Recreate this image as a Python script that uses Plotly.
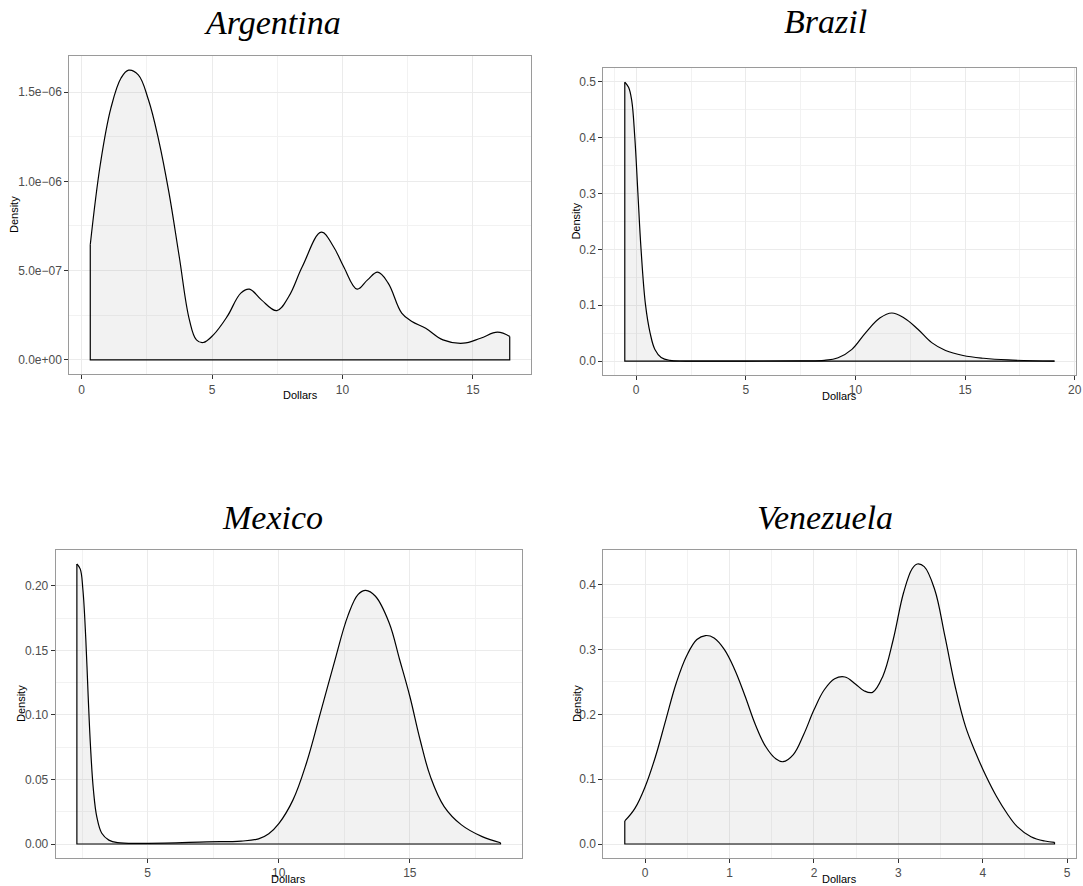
import plotly.graph_objects as go

# ---- data (density curves, one per country) ----
arg_x = [0.33, 0.72, 1.12, 1.51, 1.80, 2.17, 2.56, 2.95, 3.35, 3.74, 4.13, 4.40, 4.66,
         5.05, 5.58, 6.10, 6.43, 6.89, 7.48, 7.94, 8.46, 9.19, 9.65, 10.04, 10.56,
         10.96, 11.35, 11.75, 12.27, 12.66, 13.19, 13.85, 14.63, 15.29, 15.94, 16.41]
arg_y = [0.645e-6, 1.10e-6, 1.41e-6, 1.579e-6, 1.623e-6, 1.597e-6, 1.457e-6, 1.233e-6,
         0.934e-6, 0.579e-6, 0.224e-6, 0.112e-6, 0.097e-6, 0.140e-6, 0.243e-6, 0.374e-6,
         0.396e-6, 0.336e-6, 0.276e-6, 0.355e-6, 0.523e-6, 0.715e-6, 0.635e-6, 0.523e-6,
         0.396e-6, 0.448e-6, 0.491e-6, 0.430e-6, 0.262e-6, 0.215e-6, 0.177e-6, 0.112e-6,
         0.093e-6, 0.121e-6, 0.155e-6, 0.131e-6]

bra_x = [-0.52, -0.348, -0.206, -0.063, 0.079, 0.222, 0.427, 0.633, 0.854, 1.139, 1.535,
         2.25, 5.0, 7.5, 8.58, 9.21, 9.84, 10.47, 11.11, 11.66, 12.22, 12.85, 13.48, 14.11,
         14.91, 15.85, 16.96, 19.08]
bra_y = [0.499, 0.490, 0.467, 0.400, 0.300, 0.200, 0.100, 0.0506, 0.0208, 0.0065, 0.0012,
         0.0, 0.0, 0.0003, 0.0012, 0.006, 0.021, 0.051, 0.077, 0.086, 0.077, 0.057, 0.033,
         0.019, 0.010, 0.005, 0.002, 0.0]

mex_x = [2.30, 2.43, 2.53, 2.64, 2.73, 2.82, 2.93, 3.06, 3.25, 3.52, 3.85, 5.03, 7.26,
         8.57, 9.23, 9.62, 10.01, 10.54, 11.06, 11.59, 12.11, 12.64, 13.03, 13.32, 13.69,
         14.21, 14.61, 15.00, 15.39, 15.79, 16.31, 16.97, 17.76, 18.46]
mex_y = [0.217, 0.213, 0.197, 0.159, 0.115, 0.0756, 0.042, 0.021, 0.0083, 0.003, 0.001,
         0.0005, 0.0016, 0.0023, 0.004, 0.008, 0.016, 0.034, 0.063, 0.1016, 0.140, 0.177,
         0.1935, 0.1966, 0.192, 0.1715, 0.143, 0.1145, 0.081, 0.052, 0.029, 0.0148,
         0.0057, 0.001]

ven_x = [-0.242, -0.122, 0.0, 0.122, 0.245, 0.367, 0.490, 0.612, 0.714, 0.816, 0.939,
         1.061, 1.184, 1.306, 1.429, 1.551, 1.633, 1.755, 1.878, 2.0, 2.122, 2.245, 2.367,
         2.490, 2.592, 2.694, 2.816, 2.939, 3.061, 3.163, 3.224, 3.306, 3.429, 3.551,
         3.673, 3.796, 3.918, 4.041, 4.163, 4.286, 4.408, 4.571, 4.735, 4.85]
ven_y = [0.0356, 0.055, 0.0887, 0.135, 0.192, 0.248, 0.290, 0.3155, 0.3216, 0.318, 0.300,
         0.269, 0.228, 0.184, 0.150, 0.131, 0.127, 0.138, 0.169, 0.207, 0.238, 0.255,
         0.2577, 0.247, 0.2365, 0.234, 0.259, 0.3155, 0.3876, 0.4247, 0.432, 0.428, 0.393,
         0.3206, 0.243, 0.181, 0.140, 0.104, 0.0732, 0.0474, 0.0268, 0.0113, 0.0046, 0.0026]

# ---- ticks ----
arg_xticks = [0, 5, 10, 15]
arg_yticks = [0, 5e-7, 1e-6, 1.5e-6]
arg_yticktext = ["0.0e+00", "5.0e\u221207", "1.0e\u221206", "1.5e\u221206"]
arg_xminor = [2.5, 7.5, 12.5]
arg_yminor = [2.5e-7, 7.5e-7, 1.25e-6]

bra_xticks = [0, 5, 10, 15, 20]
bra_yticks = [0.0, 0.1, 0.2, 0.3, 0.4, 0.5]
bra_yticktext = ["0.0", "0.1", "0.2", "0.3", "0.4", "0.5"]
bra_xminor = [-1, 2.5, 7.5, 12.5, 17.5]
bra_yminor = [0.05, 0.15, 0.25, 0.35, 0.45]

mex_xticks = [5, 10, 15]
mex_yticks = [0.0, 0.05, 0.10, 0.15, 0.20]
mex_yticktext = ["0.00", "0.05", "0.10", "0.15", "0.20"]
mex_xminor = [2.5, 7.5, 12.5, 17.5]
mex_yminor = [0.025, 0.075, 0.125, 0.175]

ven_xticks = [0, 1, 2, 3, 4, 5]
ven_yticks = [0.0, 0.1, 0.2, 0.3, 0.4]
ven_yticktext = ["0.0", "0.1", "0.2", "0.3", "0.4"]
ven_xminor = [0.5, 1.5, 2.5, 3.5, 4.5]
ven_yminor = [0.05, 0.15, 0.25, 0.35]

W, H = 1083, 886


def fx(px):
    return px / W


def fy(py):
    return 1 - py / H


# panel boxes in pixels: (left, top, right, bottom), then title / y-label / x-label centres
panels = [
    ("Argentina", arg_x, arg_y, arg_xticks, arg_yticks, arg_yticktext, arg_xminor, arg_yminor,
     (69.3, 55.7, 530.7, 374.3), (272, 22.5), (14, 215), (300, 395.5)),
    ("Brazil", bra_x, bra_y, bra_xticks, bra_yticks, bra_yticktext, bra_xminor, bra_yminor,
     (603.3, 68.3, 1076, 375), (825, 22), (576, 221.6), (839.6, 396)),
    ("Mexico", mex_x, mex_y, mex_xticks, mex_yticks, mex_yticktext, mex_xminor, mex_yminor,
     (55.7, 550, 521.7, 858), (272, 517), (21, 704), (288.7, 879)),
    ("Venezuela", ven_x, ven_y, ven_xticks, ven_yticks, ven_yticktext, ven_xminor, ven_yminor,
     (603.3, 550, 1076, 858), (825, 517), (577, 704), (839.6, 879)),
]

FILL = "rgba(127,127,127,0.10)"
TICKFONT = dict(family="Liberation Sans, Arial, sans-serif", size=12, color="#4D4D4D")


def expanded(vals):
    # ggplot-style 5% expansion
    lo, hi = min(vals), max(vals)
    pad = 0.05 * (hi - lo)
    return [lo - pad, hi + pad]


def axis_common():
    return dict(
        showline=True, mirror=True, linecolor="#9A9A9A", linewidth=1,
        ticks="outside", ticklen=4, tickwidth=1, tickcolor="#333333",
        showgrid=True, gridcolor="#EBEBEB", gridwidth=1.1,
        zeroline=False, tickfont=TICKFONT, fixedrange=True, automargin=False,
        ticklabeloverflow="allow",
    )


fig = go.Figure()
annotations = []

for i, (name, xs, ys, xt, yt, ytt, xmin, ymin, box, tpos, dpos, xpos) in enumerate(panels, start=1):
    sfx = "" if i == 1 else str(i)
    left, top, right, bottom = box

    # filled density curve
    fig.add_trace(go.Scatter(
        x=xs, y=ys, mode="lines",
        line=dict(color="black", width=1.2, shape="spline", smoothing=1.1),
        fill="tozeroy", fillcolor=FILL,
        xaxis="x" + sfx, yaxis="y" + sfx, hoverinfo="skip",
    ))
    # closing edges of the density polygon
    fig.add_trace(go.Scatter(
        x=[xs[-1], xs[-1], xs[0], xs[0]], y=[ys[-1], 0, 0, ys[0]], mode="lines",
        line=dict(color="black", width=1.2),
        xaxis="x" + sfx, yaxis="y" + sfx, hoverinfo="skip",
    ))

    xa = axis_common()
    xa.update(
        domain=[fx(left), fx(right)], anchor="y" + sfx,
        range=expanded(xs), tickmode="array", tickvals=xt, ticktext=[str(v) for v in xt],
        minor=dict(tickmode="array", tickvals=xmin, showgrid=True,
                   gridcolor="#F2F2F2", gridwidth=0.6, ticks=""),
    )
    ya = axis_common()
    ya.update(
        domain=[fy(bottom), fy(top)], anchor="x" + sfx,
        range=expanded(ys + [0]), tickmode="array", tickvals=yt, ticktext=ytt,
        minor=dict(tickmode="array", tickvals=ymin, showgrid=True,
                   gridcolor="#F2F2F2", gridwidth=0.6, ticks=""),
    )
    fig.update_layout(**{"xaxis" + sfx: xa, "yaxis" + sfx: ya})

    annotations.append(dict(
        text="<i>" + name + "</i>", x=fx(tpos[0]), y=fy(tpos[1]),
        xref="paper", yref="paper", xanchor="center", yanchor="middle", showarrow=False,
        font=dict(family="Liberation Serif, Times New Roman, serif", size=34, color="black"),
    ))
    annotations.append(dict(
        text="Density", x=fx(dpos[0]), y=fy(dpos[1]), textangle=-90,
        xref="paper", yref="paper", xanchor="center", yanchor="middle", showarrow=False,
        font=dict(family="Liberation Sans, Arial, sans-serif", size=11, color="black"),
    ))
    annotations.append(dict(
        text="Dollars", x=fx(xpos[0]), y=fy(xpos[1]),
        xref="paper", yref="paper", xanchor="center", yanchor="middle", showarrow=False,
        font=dict(family="Liberation Sans, Arial, sans-serif", size=11, color="black"),
    ))

fig.update_layout(
    width=W, height=H,
    margin=dict(l=0, r=0, t=0, b=0),
    paper_bgcolor="white", plot_bgcolor="white",
    showlegend=False,
    annotations=annotations,
)

# drop the default 8px page margin so the figure sits at the window's corner
fig.write_html("out.html",
               config={"displayModeBar": False},
               post_script="document.body.style.margin='0';document.body.style.overflow='hidden';")
